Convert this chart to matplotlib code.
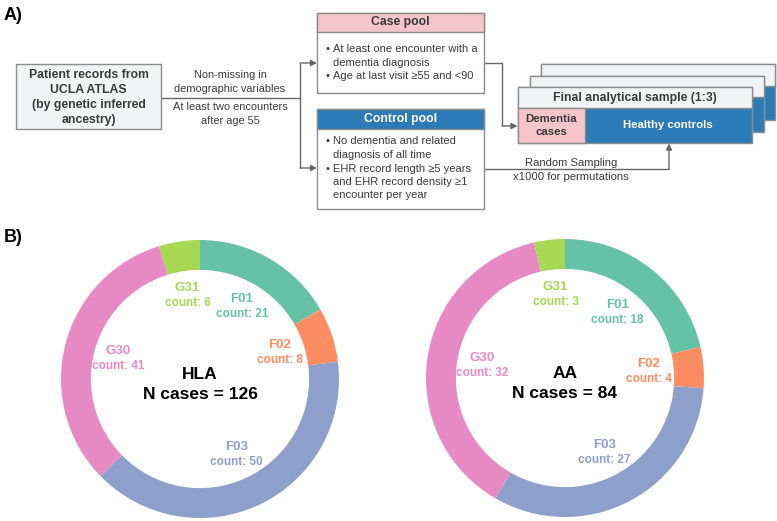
import matplotlib
matplotlib.use("Agg")
import matplotlib.pyplot as plt
from matplotlib.patches import Rectangle
import numpy as np

plt.rcParams['font.family'] = ['Liberation Sans', 'DejaVu Sans']

# ---------------- data ----------------
categories = ['F01', 'F02', 'F03', 'G30', 'G31']
hla_counts = [21, 8, 50, 41, 6]
aa_counts = [18, 4, 27, 32, 3]
group_names = ['HLA', 'AA']
slice_colors = ['#66c2a5', '#fc8d62', '#8da0cb', '#e78ac3', '#a6d854']

source_lines = ['Patient records from', 'UCLA ATLAS', '(by genetic inferred', 'ancestry)']
filter_top = ['Non-missing in', 'demographic variables']
filter_bottom = ['At least two encounters', 'after age 55']
case_title = 'Case pool'
case_lines = [('•', 'At least one encounter with a'), ('', 'dementia diagnosis'),
              ('•', 'Age at last visit ≥55 and <90')]
control_title = 'Control pool'
control_lines = [('•', 'No dementia and related'), ('', 'diagnosis of all time'),
                 ('•', 'EHR record length ≥5 years'), ('', 'and EHR record density ≥1'),
                 ('', 'encounter per year')]
final_title = 'Final analytical sample (1:3)'
final_cases = ['Dementia', 'cases']
final_controls = 'Healthy controls'
sampling_lines = ['Random Sampling', 'x1000 for permutations']

# ---------------- styles ----------------
W, H = 777, 521
TXT = '#3a3a3a'
EDGE = '#8c8c8c'
LINE = '#666666'
GRAY = '#f2f3f5'
PINK = '#f5c5c9'
BLUE = '#2d7bb6'
BODY = 8.0

fig = plt.figure(figsize=(W / 100, H / 100), dpi=100)
ax = fig.add_axes([0, 0, 1, 1])
ax.set_xlim(0, W)
ax.set_ylim(H, 0)
ax.axis('off')


def box(x, y, w, h, fc, ec=EDGE, lw=1.0, z=2):
    ax.add_patch(Rectangle((x, y), w, h, facecolor=fc, edgecolor=ec, lw=lw, zorder=z))


def arrow(x0, y0, x1, y1):
    ax.annotate('', xy=(x1, y1), xytext=(x0, y0),
                arrowprops=dict(arrowstyle='-|>', color=LINE, lw=1.0,
                                shrinkA=0, shrinkB=0, mutation_scale=9), zorder=5)


def line(xs, ys):
    ax.plot(xs, ys, color=LINE, lw=1.0, zorder=1, solid_capstyle='butt')


# panel labels
ax.text(4, 15, 'A)', fontsize=13, fontweight='bold', color='black', va='center', ha='left')
ax.text(4, 238, 'B)', fontsize=13, fontweight='bold', color='black', va='center', ha='left')

# source box
box(16, 64, 145, 65, GRAY)
for i, t in enumerate(source_lines):
    ax.text(88.5, 75 + 15 * i, t, fontsize=8.8, fontweight='bold', color=TXT,
            ha='center', va='center', zorder=6)

# filters
line([161, 300], [97.5, 97.5])
for i, t in enumerate(filter_top):
    ax.text(230, 75 + 14 * i, t, fontsize=7.9, color=TXT, ha='center', va='center')
for i, t in enumerate(filter_bottom):
    ax.text(230, 107 + 13.5 * i, t, fontsize=7.9, color=TXT, ha='center', va='center')
line([300, 300], [63, 168])
arrow(300, 63, 317, 63)
arrow(300, 168, 317, 168)

# case pool
box(317, 13, 167, 80, 'white')
box(317, 13, 167, 19, PINK)
ax.text(400.5, 22.5, case_title, fontsize=8.8, fontweight='bold', color=TXT,
        ha='center', va='center', zorder=6)
for (b, t), y in zip(case_lines, [49, 62.5, 76]):
    if b:
        ax.text(325, y, b, fontsize=BODY, color=TXT, ha='left', va='center', zorder=6)
    ax.text(333, y, t, fontsize=BODY, color=TXT, ha='left', va='center', zorder=6)

# control pool
box(317, 109, 167, 100, 'white')
box(317, 109, 167, 20, BLUE)
ax.text(400.5, 119, control_title, fontsize=8.8, fontweight='bold', color='white',
        ha='center', va='center', zorder=6)
for (b, t), y in zip(control_lines, [141, 155, 169, 182, 195]):
    if b:
        ax.text(325, y, b, fontsize=BODY, color=TXT, ha='left', va='center', zorder=6)
    ax.text(333, y, t, fontsize=BODY, color=TXT, ha='left', va='center', zorder=6)

# connection from case pool to final sample
line([484, 502, 502], [63, 63, 126])
arrow(502, 126, 517.5, 126)

# stacked final sample boxes (back to front)
for dx, dy in [(23, -23), (11.5, -11.5)]:
    x0, y0 = 518 + dx, 87 + dy
    box(x0, y0, 234, 56, BLUE, z=2)
    box(x0, y0, 234, 21.5, GRAY, z=2)
box(518, 87, 234, 56, BLUE, z=3)
box(518, 87, 234, 21, GRAY, z=3)
box(518, 108, 67, 35, PINK, z=3)
ax.text(635, 97.5, final_title, fontsize=8.8, fontweight='bold', color=TXT,
        ha='center', va='center', zorder=6)
ax.text(551.5, 119, final_cases[0], fontsize=8.2, fontweight='bold', color=TXT,
        ha='center', va='center', zorder=6)
ax.text(551.5, 132, final_cases[1], fontsize=8.2, fontweight='bold', color=TXT,
        ha='center', va='center', zorder=6)
ax.text(668, 125, final_controls, fontsize=8.2, fontweight='bold', color='white',
        ha='center', va='center', zorder=6)

# random sampling connection
line([484, 669], [169, 169])
arrow(669, 169, 669, 143.5)
ax.text(571, 162.5, sampling_lines[0], fontsize=8.1, color=TXT, ha='center', va='center')
ax.text(571, 177, sampling_lines[1], fontsize=8.1, color=TXT, ha='center', va='center')

# ---------------- donuts ----------------
R = 139.0
pad = 1.02
centers = [(200, 379), (565, 378)]
for (cx, cy), counts, name in zip(centers, [hla_counts, aa_counts], group_names):
    half = R * pad
    dax = fig.add_axes([(cx - half) / W, (H - cy - half) / H, 2 * half / W, 2 * half / H])
    dax.pie(counts, colors=slice_colors, startangle=90, counterclock=False, radius=1.0,
            wedgeprops=dict(width=0.215, linewidth=0))
    dax.set_xlim(-pad, pad)
    dax.set_ylim(-pad, pad)
    dax.set_aspect('equal')
    dax.axis('off')
    total = sum(counts)
    cum = np.cumsum([0] + list(counts))
    for i, (cat, c) in enumerate(zip(categories, counts)):
        mid = (cum[i] + c / 2) / total * 2 * np.pi
        r = 0.605
        lx, ly = r * np.sin(mid), r * np.cos(mid)
        dax.text(lx, ly + 0.053, cat, fontsize=9.5, fontweight='bold', color=slice_colors[i],
                 ha='center', va='center')
        dax.text(lx, ly - 0.055, f'count: {c}', fontsize=8.5, fontweight='bold',
                 color=slice_colors[i], ha='center', va='center')
    dax.text(0, 0.03, name, fontsize=12.5, fontweight='bold', color='black',
             ha='center', va='center')
    dax.text(0, -0.11, f'N cases = {total}', fontsize=12.5, fontweight='bold', color='black',
             ha='center', va='center')

fig.savefig('out.png', dpi=100)
